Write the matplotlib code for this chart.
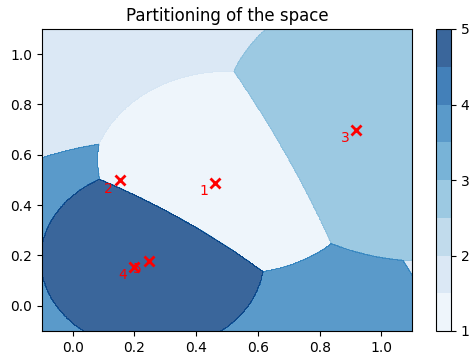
import numpy as np
import matplotlib
matplotlib.use("Agg")
import matplotlib.pyplot as plt

# cluster centres (shown as red crosses) and their labels
centre_x = [0.461, 0.153, 0.919, 0.198, 0.247]
centre_y = [0.489, 0.500, 0.700, 0.155, 0.179]
labels = [1, 2, 3, 4, 5]
# per-cluster score: bias - prec * squared distance (estimated from the boundaries)
prec = [1.0, 0.119, 0.9, 0.214, 1.166]
bias = [0.0, -0.1615, -0.01, -0.111, 0.0122]

XMIN, XMAX, YMIN, YMAX = -0.1, 1.1, -0.1, 1.1

xx, yy = np.meshgrid(np.linspace(XMIN, XMAX, 600), np.linspace(YMIN, YMAX, 600))
scores = np.stack([b - p * ((xx - cx) ** 2 + (yy - cy) ** 2)
                   for cx, cy, p, b in zip(centre_x, centre_y, prec, bias)])
Z = np.array(labels)[scores.argmax(axis=0)]

W, H = 469, 354
fig = plt.figure(figsize=(W / 100, H / 100), dpi=100)
ax = fig.add_axes([41.7 / W, 1 - 331 / H, (412.3 - 41.7) / W, (331 - 29) / H])
cax = fig.add_axes([435.7 / W, 1 - 331 / H, 15.3 / W, (331 - 29) / H])

cs = ax.contourf(xx, yy, Z, cmap="Blues", alpha=0.8)
cb = fig.colorbar(cs, cax=cax)
cb.set_ticks([1, 2, 3, 4, 5])

ax.plot(centre_x, centre_y, "x", color="red", ms=7, mew=2)
for cx, cy, lab in zip(centre_x, centre_y, labels):
    ax.text(cx - 0.05, cy - 0.05, str(lab), color="red", fontsize=10)

ax.set_xlim(XMIN, XMAX); ax.set_ylim(YMIN, YMAX)
ax.set_xticks([0.0, 0.2, 0.4, 0.6, 0.8, 1.0])
ax.set_yticks([0.0, 0.2, 0.4, 0.6, 0.8, 1.0])
ax.set_title("Partitioning of the space")
fig.savefig("out.png", dpi=100)
